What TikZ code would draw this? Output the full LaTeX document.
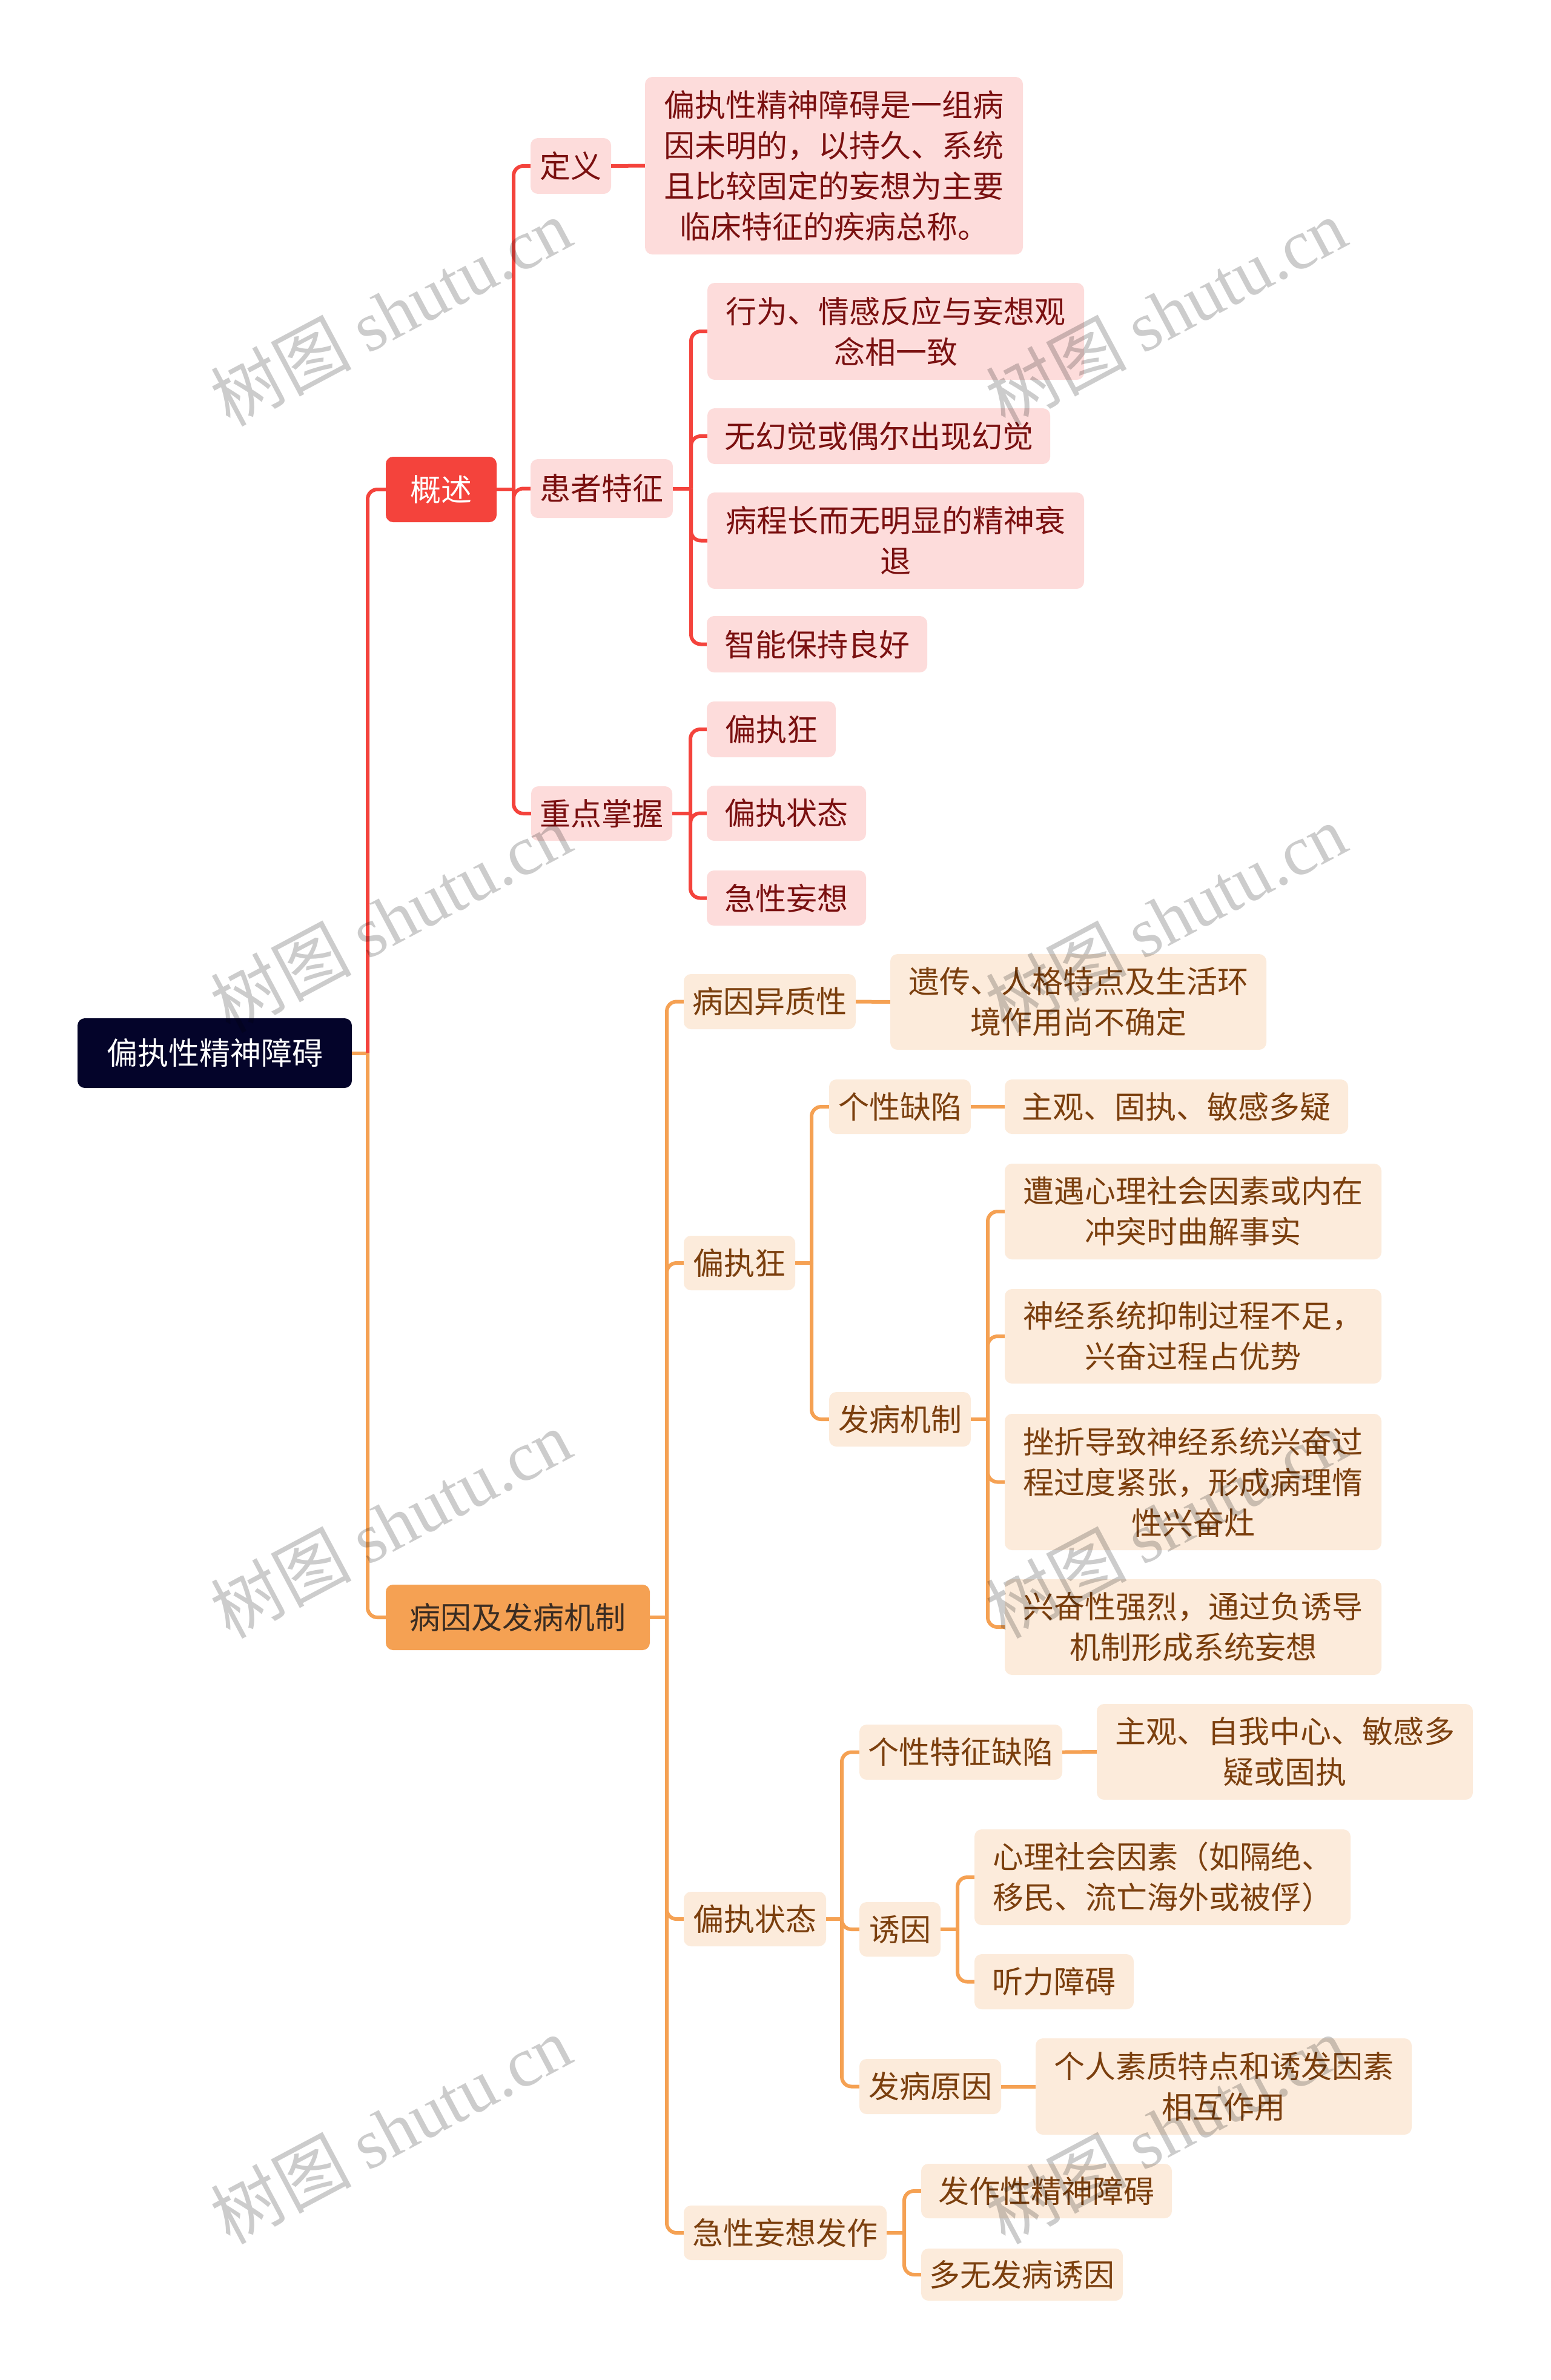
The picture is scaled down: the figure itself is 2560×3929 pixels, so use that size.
\documentclass[tikz,border=0pt]{standalone}
\usepackage{fontspec}
\setmainfont{Noto Sans CJK SC}
\newfontfamily\wmlat{Liberation Serif}
\definecolor{cRoot}{HTML}{04042A}
\definecolor{cRed}{HTML}{F4433C}
\definecolor{cOr}{HTML}{F5A153}
\definecolor{cOrT}{HTML}{3A2C22}
\definecolor{cPk}{HTML}{FDDCDB}
\definecolor{cPkT}{HTML}{7A1010}
\definecolor{cPc}{HTML}{FCEBDB}
\definecolor{cPcT}{HTML}{7B3F0E}
\newcommand\mmbox[7]{\node[#2, minimum width={#5-#3}, minimum height={#6-#4}] (#1) at ({(#3+#5)/2},{(#4+#6)/2}) {#7};}
\newcommand\mmbr[4]{%
  \draw[#1] (#2.east) -- (#2.east -| #3);
  \foreach \cc in {#4} {\draw[#1] (#2.east -| #3) |- (\cc.west);}}
\begin{document}
\begin{tikzpicture}[x=1pt,y=-1pt,
  base/.style={rounded corners=12, inner sep=0pt, align=center, font=\fontsize{51}{67}\selectfont},
  rootst/.style={base, fill=cRoot, text=white},
  redst/.style={base, fill=cRed, text=white},
  orst/.style={base, fill=cOr, text=cOrT},
  pk/.style={base, fill=cPk, text=cPkT},
  pc/.style={base, fill=cPc, text=cPcT},
  rl/.style={draw=cRed, line width=6pt, rounded corners=16},
  ol/.style={draw=cOr, line width=6pt, rounded corners=16},
  wm/.style={rotate=28, text=black, text opacity=0.2, font=\fontsize{116}{120}\selectfont, inner sep=0pt}]
\fill[white] (0,0) rectangle (2560,3929);
\useasboundingbox (0,0) rectangle (2560,3929);

% trunk coordinates
\coordinate (t0) at (607,0);
\coordinate (tgs) at (848,0);
\coordinate (thz) at (1141,0);
\coordinate (tzd) at (1140,0);
\coordinate (tby) at (1101,0);
\coordinate (tb2) at (1340,0);
\coordinate (tb2b) at (1631,0);
\coordinate (tb3) at (1390,0);
\coordinate (tb3b) at (1581,0);
\coordinate (tb4) at (1493,0);

% nodes
\mmbox{root}{rootst}{128}{1681}{581}{1796}{偏执性精神障碍}
\mmbox{gs}{redst}{637}{754}{820}{862}{概述}
\mmbox{by}{orst}{637}{2616}{1073}{2724}{病因及发病机制}

\mmbox{dy}{pk}{876}{228}{1009}{320}{定义}
\mmbox{dyt}{pk}{1065}{127}{1689}{420}{偏执性精神障碍是一组病\\因未明的，以持久、系统\\且比较固定的妄想为主要\\临床特征的疾病总称。}
\mmbox{hz}{pk}{876}{758}{1111}{855}{患者特征}
\mmbox{hz1}{pk}{1168}{467}{1790}{627}{行为、情感反应与妄想观\\念相一致}
\mmbox{hz2}{pk}{1168}{674}{1734}{766}{无幻觉或偶尔出现幻觉}
\mmbox{hz3}{pk}{1168}{813}{1790}{972}{病程长而无明显的精神衰\\退}
\mmbox{hz4}{pk}{1167}{1017}{1531}{1110}{智能保持良好}
\mmbox{zd}{pk}{877}{1298}{1110}{1388}{重点掌握}
\mmbox{zd1}{pk}{1167}{1158}{1380}{1250}{偏执狂}
\mmbox{zd2}{pk}{1167}{1297}{1430}{1388}{偏执状态}
\mmbox{zd3}{pk}{1167}{1437}{1430}{1528}{急性妄想}

\mmbox{b1}{pc}{1129}{1608}{1413}{1699}{病因异质性}
\mmbox{b1a}{pc}{1470}{1575}{2091}{1733}{遗传、人格特点及生活环\\境作用尚不确定}
\mmbox{b2}{pc}{1129}{2040}{1313}{2130}{偏执狂}
\mmbox{b2a}{pc}{1369}{1782}{1603}{1872}{个性缺陷}
\mmbox{b2a1}{pc}{1659}{1782}{2226}{1872}{主观、固执、敏感多疑}
\mmbox{b2b}{pc}{1369}{2298}{1603}{2388}{发病机制}
\mmbox{b2b1}{pc}{1659}{1921}{2281}{2079}{遭遇心理社会因素或内在\\冲突时曲解事实}
\mmbox{b2b2}{pc}{1659}{2128}{2281}{2284}{神经系统抑制过程不足，\\兴奋过程占优势}
\mmbox{b2b3}{pc}{1659}{2334}{2281}{2559}{挫折导致神经系统兴奋过\\程过度紧张，形成病理惰\\性兴奋灶}
\mmbox{b2b4}{pc}{1659}{2607}{2281}{2765}{兴奋性强烈，通过负诱导\\机制形成系统妄想}
\mmbox{b3}{pc}{1129}{3123}{1364}{3213}{偏执状态}
\mmbox{b3a}{pc}{1419}{2847}{1754}{2938}{个性特征缺陷}
\mmbox{b3a1}{pc}{1811}{2813}{2432}{2971}{主观、自我中心、敏感多\\疑或固执}
\mmbox{b3b}{pc}{1419}{3140}{1553}{3230}{诱因}
\mmbox{b3b1}{pc}{1609}{3020}{2230}{3178}{心理社会因素（如隔绝、\\移民、流亡海外或被俘）}
\mmbox{b3b2}{pc}{1609}{3226}{1872}{3317}{听力障碍}
\mmbox{b3c}{pc}{1419}{3399}{1653}{3490}{发病原因}
\mmbox{b3c1}{pc}{1710}{3365}{2331}{3524}{个人素质特点和诱发因素\\相互作用}
\mmbox{b4}{pc}{1129}{3641}{1464}{3731}{急性妄想发作}
\mmbox{b4a}{pc}{1521}{3572}{1935}{3662}{发作性精神障碍}
\mmbox{b4b}{pc}{1521}{3712}{1854}{3798}{多无发病诱因}

% connectors
\draw[ol] (root.east) -- (root.east -| t0);
\draw[rl] (root.east -| t0) |- (gs.west);
\draw[ol] (root.east -| t0) |- (by.west);

\mmbr{rl}{gs}{tgs}{dy,hz,zd}
\draw[rl] (dy.east) -- (dyt.west);
\mmbr{rl}{hz}{thz}{hz1,hz2,hz3,hz4}
\mmbr{rl}{zd}{tzd}{zd1,zd2,zd3}

\mmbr{ol}{by}{tby}{b1,b2,b3,b4}
\draw[ol] (b1.east) -- (b1a.west);
\mmbr{ol}{b2}{tb2}{b2a,b2b}
\draw[ol] (b2a.east) -- (b2a1.west);
\mmbr{ol}{b2b}{tb2b}{b2b1,b2b2,b2b3,b2b4}
\mmbr{ol}{b3}{tb3}{b3a,b3b,b3c}
\draw[ol] (b3a.east) -- (b3a1.west);
\mmbr{ol}{b3b}{tb3b}{b3b1,b3b2}
\draw[ol] (b3c.east) -- (b3c1.west);
\mmbr{ol}{b4}{tb4}{b4a,b4b}

% watermarks
\foreach \wy in {515,1515,2515,3515} {
  \node[wm] at (645,\wy) {树图 {\wmlat shutu.cn}};
  \node[wm] at (1925,\wy) {树图 {\wmlat shutu.cn}};
}
\end{tikzpicture}
\end{document}
